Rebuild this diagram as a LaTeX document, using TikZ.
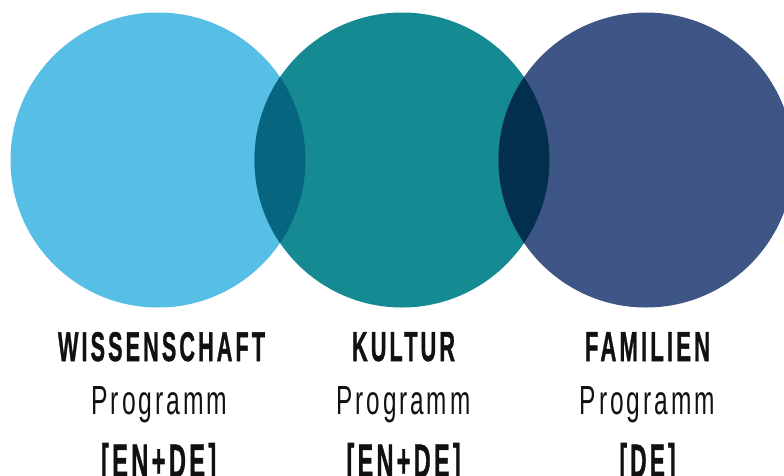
\documentclass[tikz,border=0pt]{standalone}
\usepackage{fontspec}
\usepackage{graphicx}
\newfontfamily\headfont[LetterSpace=14,FakeBold=1.2]{Liberation Sans Bold}
\newfontfamily\thinfont[LetterSpace=12]{Liberation Sans}
\definecolor{cleft}{HTML}{57BEE6}
\definecolor{cmid}{HTML}{168A93}
\definecolor{cright}{HTML}{3E5686}
\definecolor{lensA}{HTML}{07667F}
\definecolor{lensB}{HTML}{04304F}
\definecolor{txt}{HTML}{111111}
\newcommand{\fitto}[3]{\resizebox{#1pt}{#2pt}{#3}}
\tikzset{
  disc/.style={circle, inner sep=0pt, minimum size=295pt, draw=none},
  headlbl/.style={anchor=base, inner sep=0pt, text=txt, font=\headfont},
  thinlbl/.style={anchor=base, inner sep=0pt, text=txt, font=\thinfont},
}
\begin{document}
\begin{tikzpicture}[x=1pt,y=-1pt]
\useasboundingbox (0,0) rectangle (784,475);
% circles
\node[disc, fill=cleft]  (wiss) at (158,160) {};
\node[disc, fill=cmid]   (kult) at (402,160) {};
\node[disc, fill=cright] (fam)  at (646,160) {};
% overlaps
\begin{scope}
  \clip (158,160) circle[radius=147.5];
  \fill[lensA] (402,160) circle[radius=147.5];
\end{scope}
\begin{scope}
  \clip (402,160) circle[radius=147.5];
  \fill[lensB] (646,160) circle[radius=147.5];
\end{scope}
% labels
\node[headlbl] (t1) at (160,361) {\fitto{204}{29}{WISSENSCHAFT\kern-0.14em}};
\node[thinlbl] (p1) at (158,414) {\fitto{133}{28}{Programm\kern-0.12em}};
\node[headlbl] (l1) at (157,477) {\fitto{112}{34}{[EN+DE]\kern-0.14em}};
\node[headlbl] (t2) at (402,361) {\fitto{100}{29}{KULTUR\kern-0.14em}};
\node[thinlbl] (p2) at (402,414) {\fitto{131}{28}{Programm\kern-0.12em}};
\node[headlbl] (l2) at (402,477) {\fitto{111}{34}{[EN+DE]\kern-0.14em}};
\node[headlbl] (t3) at (646,361) {\fitto{122}{29}{FAMILIEN\kern-0.14em}};
\node[thinlbl] (p3) at (646,414) {\fitto{132}{28}{Programm\kern-0.12em}};
\node[headlbl] (l3) at (646,477) {\fitto{53}{34}{[DE]\kern-0.14em}};
\end{tikzpicture}
\end{document}
